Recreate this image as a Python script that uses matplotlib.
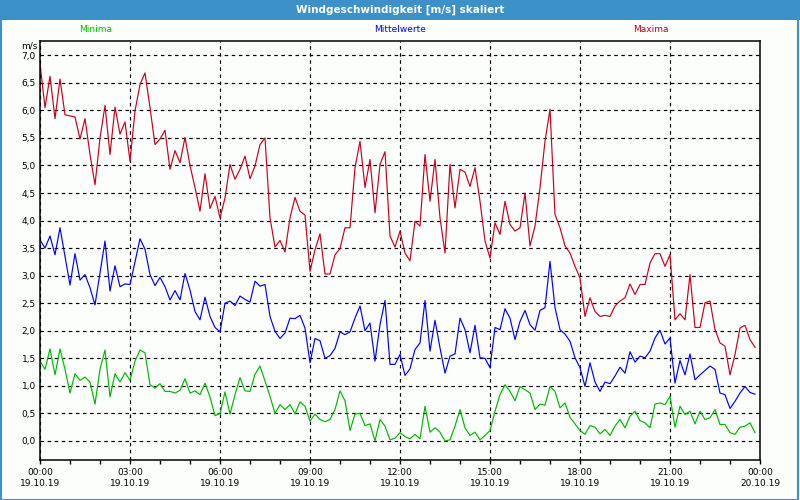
import matplotlib
matplotlib.use('Agg')
import matplotlib.pyplot as plt
from matplotlib.patches import Rectangle

# 10-minute values, 19.10.19 00:00 .. 23:50
maxima = [6.85, 6.05, 6.62, 5.85, 6.57, 5.92, 5.90, 5.88, 5.48, 5.85, 5.20, 4.65, 5.50, 6.09, 5.20, 6.06,
          5.57, 5.79, 5.08, 5.99, 6.47, 6.68, 6.05, 5.38, 5.48, 5.64, 4.93, 5.27, 5.05, 5.51, 5.00, 4.60,
          4.17, 4.85, 4.22, 4.44, 4.05, 4.41, 5.02, 4.75, 4.93, 5.17, 4.76, 4.99, 5.38, 5.50, 4.05, 3.52,
          3.64, 3.43, 4.05, 4.42, 4.17, 4.10, 3.08, 3.47, 3.76, 3.03, 3.03, 3.38, 3.49, 3.87, 3.87, 4.96,
          5.44, 4.60, 5.11, 4.14, 5.02, 5.25, 3.72, 3.52, 3.81, 3.41, 3.27, 3.99, 3.90, 5.20, 4.35, 5.11,
          4.05, 3.41, 5.02, 4.23, 4.93, 4.88, 4.62, 4.96, 4.35, 3.63, 3.32, 3.96, 3.75, 4.35, 3.93, 3.81,
          3.87, 4.50, 3.54, 3.90, 4.60, 5.44, 6.02, 4.11, 3.87, 3.54, 3.41, 3.17, 2.96, 2.26, 2.60, 2.35,
          2.26, 2.28, 2.26, 2.45, 2.54, 2.60, 2.85, 2.66, 2.84, 2.84, 3.23, 3.40, 3.40, 3.17, 3.38, 2.20,
          2.31, 2.20, 3.02, 2.06, 2.06, 2.51, 2.54, 2.02, 1.78, 1.72, 1.20, 1.57, 2.05, 2.10, 1.84, 1.70]

mittel = [3.65, 3.50, 3.72, 3.38, 3.87, 3.35, 2.83, 3.40, 2.92, 3.02, 2.78, 2.47, 3.05, 3.63, 2.72, 3.18,
          2.80, 2.85, 2.84, 3.25, 3.67, 3.48, 3.02, 2.82, 2.97, 2.80, 2.56, 2.73, 2.56, 3.04, 2.74, 2.35,
          2.20, 2.61, 2.26, 2.06, 1.98, 2.50, 2.54, 2.46, 2.63, 2.57, 2.52, 2.90, 2.81, 2.84, 2.26, 1.99,
          1.86, 1.96, 2.23, 2.22, 2.28, 2.05, 1.42, 1.86, 1.82, 1.50, 1.55, 1.68, 1.98, 1.93, 1.98, 2.23,
          2.45, 2.00, 2.14, 1.45, 2.11, 2.55, 1.39, 1.39, 1.57, 1.19, 1.31, 1.66, 1.78, 2.55, 1.63, 2.19,
          1.69, 1.23, 1.54, 1.58, 2.23, 2.02, 1.60, 2.10, 1.51, 1.50, 1.33, 2.06, 2.02, 2.40, 2.23, 1.84,
          2.17, 2.37, 2.11, 2.01, 2.37, 2.42, 3.26, 2.42, 2.02, 1.94, 1.81, 1.51, 1.33, 0.99, 1.42, 1.07,
          0.90, 1.07, 1.04, 1.18, 1.34, 1.23, 1.62, 1.43, 1.54, 1.51, 1.63, 1.87, 2.01, 1.76, 1.87, 1.05,
          1.46, 1.20, 1.58, 1.11, 1.20, 1.28, 1.36, 1.30, 0.87, 0.84, 0.59, 0.72, 0.87, 0.99, 0.88, 0.85]

minima = [1.45, 1.30, 1.67, 1.20, 1.67, 1.30, 0.87, 1.22, 1.10, 1.16, 1.07, 0.67, 1.30, 1.65, 0.80, 1.22,
          1.07, 1.24, 1.10, 1.45, 1.65, 1.60, 1.02, 0.96, 1.04, 0.90, 0.90, 0.87, 0.92, 1.13, 0.87, 0.91,
          0.84, 1.05, 0.80, 0.46, 0.50, 0.89, 0.49, 0.84, 1.15, 0.91, 0.90, 1.21, 1.36, 1.09, 0.81, 0.50,
          0.66, 0.57, 0.66, 0.49, 0.71, 0.63, 0.36, 0.49, 0.39, 0.35, 0.39, 0.57, 0.91, 0.73, 0.19, 0.49,
          0.50, 0.28, 0.31, 0.00, 0.39, 0.27, 0.02, 0.05, 0.15, 0.08, 0.04, 0.12, 0.04, 0.63, 0.16, 0.24,
          0.16, 0.00, 0.02, 0.27, 0.57, 0.24, 0.10, 0.16, 0.02, 0.10, 0.19, 0.54, 0.84, 1.02, 0.90, 0.73,
          0.99, 0.93, 0.87, 0.57, 0.67, 0.65, 0.99, 0.90, 0.60, 0.69, 0.43, 0.31, 0.19, 0.12, 0.28, 0.25,
          0.13, 0.21, 0.10, 0.27, 0.39, 0.24, 0.45, 0.54, 0.37, 0.33, 0.24, 0.67, 0.69, 0.66, 0.81, 0.25,
          0.63, 0.48, 0.54, 0.31, 0.54, 0.39, 0.42, 0.57, 0.30, 0.30, 0.15, 0.12, 0.25, 0.27, 0.33, 0.15]

hours = [i / 6 for i in range(len(maxima))]
tick_hours = [0, 3, 6, 9, 12, 15, 18, 21, 24]
tick_labels = ['00:00\n19.10.19', '03:00\n19.10.19', '06:00\n19.10.19', '09:00\n19.10.19',
               '12:00\n19.10.19', '15:00\n19.10.19', '18:00\n19.10.19', '21:00\n19.10.19',
               '00:00\n20.10.19']
y_ticks = [i * 0.5 for i in range(15)]

plt.rcParams['font.family'] = 'DejaVu Sans'
fig = plt.figure(figsize=(8, 5), dpi=100, facecolor='#fcfefc')

# title bar and frame
fig.patches.append(Rectangle((0, 0.96), 1, 0.04, transform=fig.transFigure,
                             facecolor='#3c91c8', edgecolor='none'))
fig.patches.append(Rectangle((0.001, 0.001), 0.997, 0.998, transform=fig.transFigure,
                             facecolor='none', edgecolor='#3c91c8', lw=1.5))
fig.text(0.5, 0.98, 'Windgeschwindigkeit [m/s] skaliert', color='white',
         ha='center', va='center', fontsize=7.5, fontweight='bold')

fig.text(0.12, 0.941, 'Minima', color='#00c000', ha='center', va='center', fontsize=6.5)
fig.text(0.5, 0.941, 'Mittelwerte', color='#0000ff', ha='center', va='center', fontsize=6.5)
fig.text(0.814, 0.941, 'Maxima', color='#c00020', ha='center', va='center', fontsize=6.5)

ax = fig.add_axes([0.05, 0.08, 0.90, 0.8386])
ax.set_facecolor('#fcfefc')
ax.plot(hours, maxima, color='#c8001e', lw=0.85)
ax.plot(hours, mittel, color='#0000ff', lw=0.85)
ax.plot(hours, minima, color='#00b800', lw=0.85)

ax.set_xlim(0, 24)
ax.set_ylim(-0.345, 7.265)
ax.set_xticks(tick_hours)
ax.set_xticklabels(tick_labels, fontsize=6.5)
ax.set_xticks(range(25), minor=True)
ax.set_yticks(y_ticks)
ax.set_yticklabels([('%.1f' % v).replace('.', ',') for v in y_ticks], fontsize=6.5)
ax.tick_params(axis='x', which='both', direction='out', length=3, width=1, color='black', pad=3)
ax.tick_params(axis='y', length=0, pad=3)
ax.grid(True, which='major', color='black', linestyle=(0, (3, 3)), lw=0.85)
for s in ax.spines.values():
    s.set_color('black')
    s.set_linewidth(1.1)

fig.text(0.047, 0.908, 'm/s', ha='right', va='center', fontsize=6.5)

fig.savefig('out.png', dpi=100, facecolor=fig.get_facecolor())
